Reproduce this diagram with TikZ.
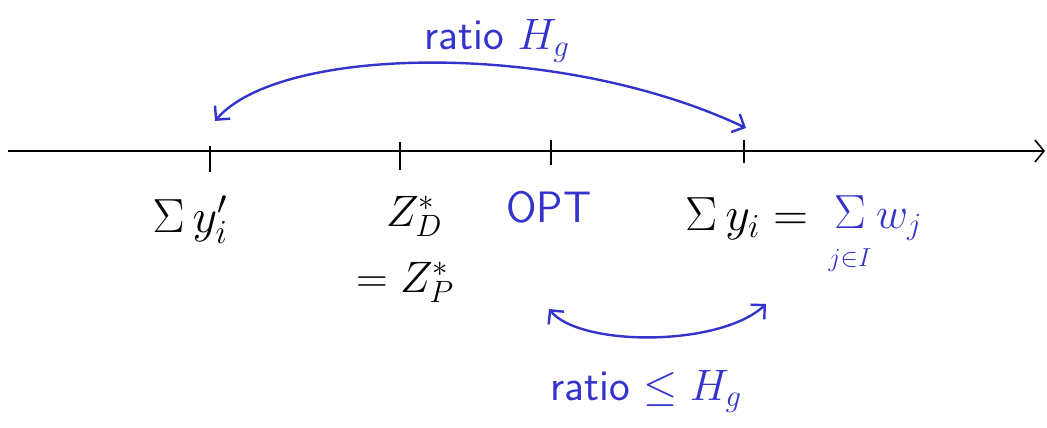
\RequirePackage{fix-cm}
\documentclass[tikz,border=0pt]{standalone}
\usepackage{fontspec}
\usetikzlibrary{arrows.meta}
\definecolor{pen}{RGB}{52,52,204}
\begin{document}
\begin{tikzpicture}[x=1pt,y=-1pt,
  axisline/.style={line width=1.6pt,-{Straight Barb[length=9pt,width=22pt,line width=1.6pt]}},
  tickmark/.style={line width=1.6pt},
  arcline/.style={pen,line width=2.4pt,{Straight Barb[length=10pt,width=20pt]}-{Straight Barb[length=10pt,width=20pt]}},
  lbl/.style={inner sep=0pt,font=\fontsize{48}{54}\selectfont},
  smalllbl/.style={inner sep=0pt,font=\fontsize{44}{50}\selectfont},
  bluelbl/.style={inner sep=0pt,text=pen,font=\fontsize{44}{50}\selectfont},
  tinylbl/.style={inner sep=0pt,text=pen,font=\fontsize{26}{30}\selectfont},
  txt/.style={inner sep=0pt,text=pen,font=\sffamily\fontsize{44}{50}\selectfont}]
\useasboundingbox (0,0) rectangle (1047,428);
% axis
\coordinate (a0) at (8,151);
\coordinate (a1) at (1045,151);
\draw[axisline] (a0) -- (a1);
% ticks
\coordinate (t1a) at (210,146); \coordinate (t1b) at (210,172);
\coordinate (t2a) at (400,142); \coordinate (t2b) at (400,170);
\coordinate (t3a) at (551,140); \coordinate (t3b) at (551,165);
\coordinate (t4a) at (744,140); \coordinate (t4b) at (744,163);
\draw[tickmark] (t1a) -- (t1b);
\draw[tickmark] (t2a) -- (t2b);
\draw[tickmark] (t3a) -- (t3b);
\draw[tickmark] (t4a) -- (t4b);
% labels
\node[lbl,anchor=base] (ydual) at (190,232) {$\Sigma\, y'_i$};
\node[smalllbl,anchor=base] (zd) at (414,226) {$Z^*_D$};
\node[smalllbl,anchor=base] (zp) at (405,292) {$= Z^*_P$};
\node[txt,anchor=base] (opt) at (549,222) {OPT};
\node[lbl,anchor=base east] (ysum) at (808,230) {$\Sigma\, y_i =$};
\node[inner sep=0pt,text=pen,font=\fontsize{48}{54}\selectfont,anchor=base] (wsig) at (850,228) {$\Sigma$};
\node[tinylbl,anchor=base] (wset) at (850,266) {$j{\in}I$};
\node[bluelbl,anchor=base west] (wj) at (876,228) {$w_j$};
% arcs
\coordinate (u0) at (215,121);
\coordinate (u1) at (746,128);
\draw[arcline] (u0) .. controls (280,45) and (560,40) .. (u1);
\node[txt,anchor=base] (r1) at (497,50) {ratio $H_g$};
\coordinate (b0) at (549,309);
\coordinate (b1) at (766,304);
\draw[arcline] (b0) .. controls (580,347) and (720,347) .. (b1);
\node[txt,anchor=base] (r2) at (646,400) {ratio $\leq H_g$};
\end{tikzpicture}
\end{document}
